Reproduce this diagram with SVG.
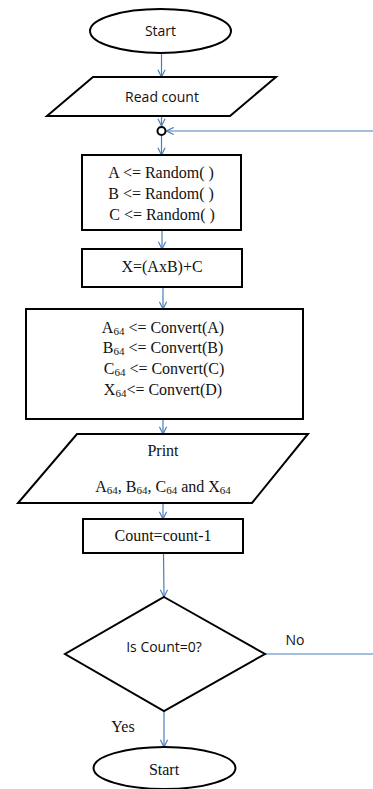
<svg xmlns="http://www.w3.org/2000/svg" width="373" height="789" viewBox="0 0 373 789">
  <style>
    .shape { fill: #ffffff; stroke: #000000; stroke-width: 2; }
    .flow { fill: none; stroke: #4a7ebb; stroke-width: 1.2; }
    .sans { font-family: "Open Sans", "Liberation Sans", sans-serif; font-size: 14px; fill: #111; text-anchor: middle; }
    .serif { font-family: "Liberation Serif", serif; font-size: 16px; fill: #111; text-anchor: middle; }
    .sub { font-size: 11px; }
  </style>
  <defs>
    <marker id="arrow" viewBox="0 0 10 10" refX="9" refY="5" markerWidth="9" markerHeight="9" markerUnits="userSpaceOnUse" orient="auto">
      <path d="M1,1 L9,5 L1,9" fill="none" stroke="#4a7ebb" stroke-width="1.3"/>
    </marker>
  </defs>

  <!-- connectors -->
  <g id="connectors">
    <line class="flow" x1="161.5" y1="53" x2="161.5" y2="77" marker-end="url(#arrow)"/>
    <line class="flow" x1="161.5" y1="116" x2="161.5" y2="126" marker-end="url(#arrow)"/>
    <line class="flow" x1="373" y1="131" x2="166.5" y2="131" marker-end="url(#arrow)"/>
    <line class="flow" x1="161.5" y1="135.5" x2="161.5" y2="155" marker-end="url(#arrow)"/>
    <line class="flow" x1="162" y1="230" x2="162" y2="249" marker-end="url(#arrow)"/>
    <line class="flow" x1="163" y1="287" x2="163" y2="309" marker-end="url(#arrow)"/>
    <line class="flow" x1="163" y1="419" x2="163" y2="434" marker-end="url(#arrow)"/>
    <line class="flow" x1="163" y1="503" x2="163" y2="519" marker-end="url(#arrow)"/>
    <line class="flow" x1="163.5" y1="553" x2="164" y2="597" marker-end="url(#arrow)"/>
    <line class="flow" x1="265" y1="654" x2="373" y2="654"/>
    <line class="flow" x1="164" y1="711" x2="164" y2="747" marker-end="url(#arrow)"/>
    <text class="sans" x="295" y="645">No</text>
    <text class="serif" x="123" y="731.5">Yes</text>
  </g>

  <g id="start">
    <ellipse class="shape" cx="160.5" cy="31" rx="70.5" ry="22"/>
    <text class="sans" x="160.5" y="36">Start</text>
  </g>

  <g id="read-count">
    <polygon class="shape" points="93,77 276,77 230,116 47,116"/>
    <text class="sans" x="162" y="102">Read count</text>
  </g>

  <g id="loop-join">
    <circle cx="161.5" cy="131" r="4" fill="#ffffff" stroke="#000000" stroke-width="2"/>
  </g>

  <g id="random">
    <rect class="shape" x="82" y="155" width="159" height="75"/>
    <text class="serif" x="161" y="177.5">A &lt;= Random( )</text>
    <text class="serif" x="161" y="198.5">B &lt;= Random( )</text>
    <text class="serif" x="162" y="219.5">C &lt;= Random( )</text>
  </g>

  <g id="compute">
    <rect class="shape" x="82" y="249" width="160" height="38"/>
    <text class="serif" x="162" y="271.5">X=(AxB)+C</text>
  </g>

  <g id="convert">
    <rect class="shape" x="26" y="309" width="277" height="110"/>
    <text class="serif" x="163" y="332.5">A<tspan class="sub" dy="2">64</tspan><tspan dy="-2"> &lt;= Convert(A)</tspan></text>
    <text class="serif" x="163" y="352.5">B<tspan class="sub" dy="2">64</tspan><tspan dy="-2"> &lt;= Convert(B)</tspan></text>
    <text class="serif" x="164" y="373.5">C<tspan class="sub" dy="2">64</tspan><tspan dy="-2"> &lt;= Convert(C)</tspan></text>
    <text class="serif" x="163" y="394.5">X<tspan class="sub" dy="2">64</tspan><tspan dy="-2">&lt;= Convert(D)</tspan></text>
  </g>

  <g id="print">
    <polygon class="shape" points="77,434 308,434 252,503 18,503"/>
    <text class="serif" x="163" y="455.5">Print</text>
    <text class="serif" x="163" y="491.5">A<tspan class="sub" dy="2">64</tspan><tspan dy="-2">, B</tspan><tspan class="sub" dy="2">64</tspan><tspan dy="-2">, C</tspan><tspan class="sub" dy="2">64</tspan><tspan dy="-2"> and X</tspan><tspan class="sub" dy="2">64</tspan></text>
  </g>

  <g id="decrement">
    <rect class="shape" x="83" y="519" width="160" height="34"/>
    <text class="serif" x="163" y="540.5">Count=count-1</text>
  </g>

  <g id="decision">
    <polygon class="shape" points="164,597 265,654 164,711 65,654"/>
    <text class="sans" x="164" y="652">Is Count=0?</text>
  </g>

  <g id="end">
    <ellipse class="shape" cx="164.5" cy="768" rx="71" ry="21"/>
    <text class="serif" x="164" y="774.5">Start</text>
  </g>
</svg>
